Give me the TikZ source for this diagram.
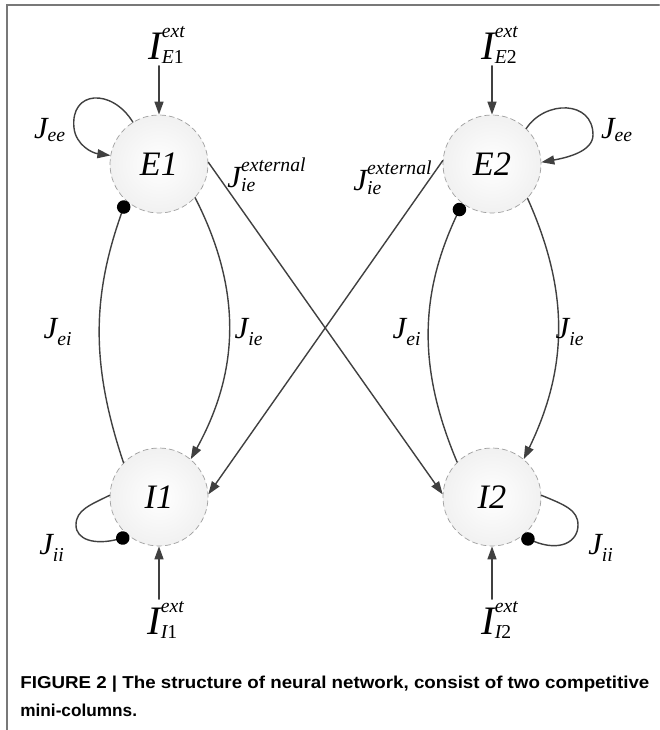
\documentclass[tikz,border=0pt]{standalone}
\usepackage{fontspec}
\usepackage{amsmath}
\usepackage{graphicx}
\setmainfont{Liberation Serif}
\newfontfamily\capfont{Liberation Sans}
\usetikzlibrary{arrows.meta}
\definecolor{lineC}{rgb}{0.25,0.25,0.25}
\definecolor{frameC}{rgb}{0.47,0.47,0.47}
\newcommand{\Jsize}{\fontsize{17.5}{20}\selectfont}
\newcommand{\Isize}{\fontsize{23}{26}\selectfont}
\newcommand{\Ssize}{\fontsize{11.2}{13}\selectfont}
\newcommand{\Jsub}[1]{$\text{\Jsize\itshape J}_{\text{\Ssize\itshape #1}}$}
\newcommand{\Jext}{$\text{\Jsize\itshape J}^{\text{\Ssize\itshape external}}_{\text{\Ssize\itshape ie}}$}
\newcommand{\Iext}[2]{$\text{\Isize\itshape I}^{\text{\Ssize\itshape ext}}_{\text{\Ssize\itshape #1}\text{\Ssize #2}}$}

\begin{document}
\begin{tikzpicture}[>={Triangle[length=2.6mm,width=1.8mm]}, line cap=round,
  neuron/.style={circle, minimum size=1.96cm, inner sep=0pt, draw=gray!75, densely dashed, thin,
    inner color=white, outer color=gray!11, font=\fontsize{19.5}{22}\selectfont\itshape},
  link/.style={draw=lineC, line width=0.8pt, solid},
  inh/.style={link, -{Circle[length=2.7mm,color=black]}},
  lab/.style={inner sep=1pt}]
\useasboundingbox (0,0) rectangle (13.18,14.6);
% 边框
\draw[frameC, line width=1.5pt] (0.14,0) -- (0.14,14.5) -- (13.18,14.5);
% 神经元群
\node[neuron] (E1) at (3.18,11.32) {E1};
\node[neuron] (E2) at (9.84,11.32) {E2};
\node[neuron] (I1) at (3.18,4.66) {I1};
\node[neuron] (I2) at (9.84,4.66) {I2};
% 外部输入
\node[lab] (xE1) at (3.34,13.7) {\Iext{E}{1}};
\node[lab] (xE2) at (10.0,13.7) {\Iext{E}{2}};
\node[lab] (xI1) at (3.32,2.2) {\Iext{I}{1}};
\node[lab] (xI2) at (10.0,2.2) {\Iext{I}{2}};
\draw[link,->] (xE1.south -| E1) -- (E1);
\draw[link,->] (xE2.south -| E2) -- (E2);
\draw[link,->] (xI1.north -| I1) -- (I1);
\draw[link,->] (xI2.north -| I2) -- (I2);
% 自连接
\draw[link,->] (E1.122) .. controls (2.24,12.84) and (1.4,12.8) .. (1.48,12.04)
  .. controls (1.52,11.7) and (1.84,11.54) .. (E1.170);
\draw[link,->] (E2.46) .. controls (10.9,12.6) and (11.86,12.6) .. (11.86,11.9)
  .. controls (11.86,11.56) and (11.3,11.44) .. (E2.2);
\draw[inh] (I1.178) .. controls (1.8,4.5) and (1.52,4.4) .. (1.52,4.1)
  .. controls (1.52,3.8) and (1.9,3.7) .. (I1.233);
\draw[inh] (I2.2) .. controls (11.3,4.5) and (11.56,4.4) .. (11.56,4.1)
  .. controls (11.56,3.76) and (11.2,3.56) .. (I2.307);
% 柱内连接
\draw[link,->] (E1.317) to[bend left=28] (I1.50);
\draw[inh] (I1.136) to[bend left=19] (E1.228);
\draw[inh] (I2.135) to[bend left=24] (E2.233);
\draw[link,->] (E2.316) to[bend left=25] (I2.50);
% 柱间连接
\draw[link,->] (E1.2) -- (I2.177);
\draw[link,->] (E2.176) -- (I1.3);
% 权重标注
\node[lab] (Jee1) at (1.0,12.0) {\Jsub{ee}};
\node[lab] (Jee2) at (12.34,12.0) {\Jsub{ee}};
\node[lab] (Jx1) at (5.34,11.1) {\Jext};
\node[lab] (Jx2) at (7.86,11.04) {\Jext};
\node[lab] (Jei1) at (1.16,7.96) {\Jsub{ei}};
\node[lab] (Jie1) at (4.98,7.96) {\Jsub{ie}};
\node[lab] (Jei2) at (8.14,7.96) {\Jsub{ei}};
\node[lab] (Jie2) at (11.4,7.96) {\Jsub{ie}};
\node[lab] (Jii1) at (1.04,3.64) {\Jsub{ii}};
\node[lab] (Jii2) at (12.02,3.64) {\Jsub{ii}};
% 图注
\node[anchor=base west, align=left, inner sep=0pt, font=\capfont\bfseries\fontsize{9.8}{15.5}\selectfont]
  (cap) at (0.4,0.28) {\resizebox{12.58cm}{\height}{FIGURE 2 | The structure of neural network, consist of two competitive}\\mini-columns.};
\end{tikzpicture}
\end{document}
